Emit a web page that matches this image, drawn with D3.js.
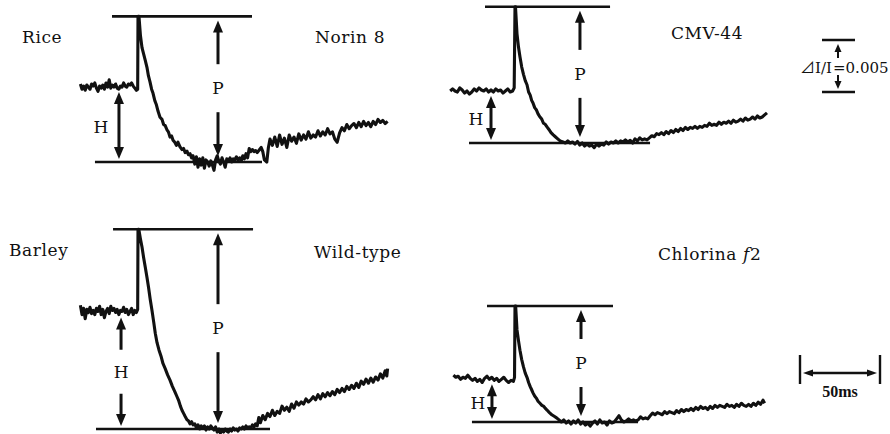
<!DOCTYPE html>
<html>
<head>
<meta charset="utf-8">
<script src="https://cdn.jsdelivr.net/npm/d3@7"></script>
<style>
  body { margin: 0; background: #fff; }
  text { font-family: "DejaVu Serif", "Noto Sans CJK JP", serif; fill: #111; }
</style>
</head>
<body>
<svg id="chart" width="890" height="434"></svg>
<script>
// traces: [time after flash (ms), signal (10^-3 ΔI/I) above the minimum]
const riceNorin8 = [
  [-36, 7.5], [-35, 7.0], [-34, 7.3], [-33, 6.9], [-32, 7.4], [-31, 7.2], [-30, 7.0], [-29, 7.5], [-28, 7.3],
  [-27, 7.6], [-26, 7.1], [-25, 6.8], [-24, 7.3], [-23, 7.1], [-22, 7.4], [-21, 7.0], [-20, 7.6], [-19, 7.2],
  [-18, 7.9], [-17, 7.1], [-16, 7.4], [-15, 7.2], [-14, 7.5], [-13, 7.1], [-12, 7.0], [-11, 7.3], [-10, 7.2],
  [-9, 7.6], [-8, 7.3], [-7, 7.2], [-6, 7.5], [-5, 7.4], [-4, 7.6], [-3, 7.3], [-2, 7.1], [-1, 6.9], [-0.2, 7.0],
  [0, 14.0], [0.6, 14.0], [1.5, 12.2], [2.5, 11.0], [3.5, 10.4], [4.5, 9.8], [5.6, 9.1], [6.5, 8.3], [7.5, 7.7],
  [8.5, 7.0], [9.4, 6.6], [10.5, 5.9], [11.5, 5.5], [12.5, 4.9], [13.75, 4.3], [15, 4.1], [16, 3.6], [17, 3.5],
  [18.1, 3.1], [19, 2.9], [20, 2.4], [21, 2.5], [21.9, 2.1], [23, 1.9], [24, 1.6], [25, 1.9], [26.25, 1.45],
  [27.5, 1.2], [28.5, 1.3], [29.5, 0.9], [30.6, 1.05], [31.5, 0.7], [32.5, 0.8], [33.5, 0.4], [34.4, 0.6],
  [35.5, -0.2], [36.5, 0.5], [37.5, -0.5], [38.5, 0.3], [39.5, -0.3], [40.5, 0.4], [41.5, -0.6], [42.5, 0.2],
  [43.5, 0.0], [44.5, -0.4], [45.5, 0.1], [46.5, -0.3], [47.5, -0.8], [48.5, 0.2], [49.5, 0.6], [50.5, 0.1],
  [51.5, -0.2], [52.5, 0.4], [53.5, 0.0], [54.5, -0.5], [55.5, 0.3], [56.5, 0.1], [57.5, 0.4], [58.5, 0.0],
  [59.5, 0.3], [60.5, 0.2], [61.5, 0.5], [62.5, 0.2], [63.5, 0.4], [64.5, 0.1], [65.5, 0.6], [66.5, 0.3],
  [67.5, 0.8], [68.5, 0.4], [69.5, 1.3], [70.5, 1.0], [71.5, 1.2], [72.5, 1.0], [73.5, 1.1], [74.5, 0.9],
  [76, 1.2], [77, 1.4], [78, 1.0], [79, 0.2], [80.5, 0.0], [81.5, 1.4],
  [82.5, 2.2], [84, 1.6], [85.5, 2.4], [87, 1.5], [88.5, 2.6], [90, 1.7], [91.5, 2.3], [93, 1.4], [94.5, 2.6],
  [96, 2.0], [97.5, 2.4], [99, 1.8], [100.5, 2.7], [102, 2.1], [103.5, 2.6], [105, 2.2], [106.5, 2.9], [108, 2.3],
  [109.5, 2.6], [111, 2.4], [112.5, 3.0], [114, 2.5], [115.5, 2.9], [117, 2.6], [118.5, 3.2], [120, 2.7],
  [121.5, 2.9], [123, 2.2], [124.5, 1.9], [126, 2.8], [127.5, 3.3], [129, 3.0], [130.5, 3.6], [132, 3.2],
  [133.5, 3.5], [135, 3.7], [136.5, 3.3], [138, 3.8], [139.5, 3.4], [141, 3.9], [142.5, 3.5], [144, 3.8],
  [145.5, 3.4], [147, 3.9], [148.5, 3.6], [150, 4.1], [151.5, 3.8], [153, 4.0], [154.5, 3.7], [156, 3.9]
];

const riceCMV44 = [
  [-40.5, 5.0], [-39, 5.2], [-37.5, 5.0], [-36, 4.9], [-34.5, 5.3], [-33, 5.1], [-31.5, 4.8], [-30, 5.0],
  [-28.5, 4.7], [-27, 4.9], [-25.5, 5.2], [-24, 5.0], [-22.5, 5.3], [-21, 5.1], [-19.5, 5.0], [-18, 5.2],
  [-16.5, 4.9], [-15, 5.1], [-13.5, 4.9], [-12, 5.2], [-10.5, 5.0], [-9, 5.1], [-7.5, 4.8], [-6, 5.0],
  [-4.5, 5.2], [-3, 4.9], [-1.5, 5.0], [-0.5, 5.3], [0, 13.1], [0.3, 13.1],
  [1.25, 10.5], [2.2, 9.2], [3.1, 8.3], [4.2, 7.3], [5.3, 6.6], [6.4, 6.0], [7.5, 5.6], [8.5, 4.9], [9.5, 4.6],
  [10.4, 4.1], [11.25, 3.85], [12.3, 3.4], [13.3, 3.2], [14.4, 2.8], [15.6, 2.5], [16.7, 2.3], [17.8, 1.9],
  [18.9, 1.8], [20, 1.55], [21.2, 1.3], [22.5, 1.0], [23.75, 0.8], [25.2, 0.6], [26.7, 0.4], [28.2, 0.2], [30, 0.1],
  [31.5, 0.0], [33, 0.2], [34.5, 0.0], [36, 0.1], [37.5, -0.1], [39, 0.15], [40.5, -0.2], [42, 0.0], [43.5, -0.3],
  [45, -0.1], [46.5, -0.3], [48, -0.2], [49.5, -0.45], [51, -0.1], [52.5, -0.3], [54, -0.1], [55.5, -0.2],
  [57, 0.1], [58.5, -0.1], [60, 0.1], [61.5, 0.0], [63, 0.2], [64.5, 0.0], [66, 0.2], [67.5, 0.1], [69, 0.3],
  [70.5, 0.1], [72, 0.25], [73.5, 0.0], [75, 0.4], [76.5, 0.2], [78, 0.5], [79.5, 0.3], [81, 0.4], [82.5, 0.3], [84, 0.5],
  [85.5, 0.7], [87, 0.6], [88.5, 0.9], [90, 0.8], [91.5, 1.0], [93, 0.8], [94.5, 1.1], [96, 0.9], [97.5, 1.2],
  [99, 1.0], [100.5, 1.3], [102, 1.1], [103.5, 1.4], [105, 1.2], [106.5, 1.5], [108, 1.3], [109.5, 1.5],
  [111, 1.4], [112.5, 1.6], [114, 1.4], [115.5, 1.6], [117, 1.5], [118.5, 1.7], [120, 1.6], [121.5, 1.9],
  [123, 1.7], [124.5, 1.8], [126, 1.7], [127.5, 2.0], [129, 1.8], [130.5, 2.0], [132, 1.9], [133.5, 2.1],
  [135, 1.9], [136.5, 2.2], [138, 2.0], [139.5, 2.1], [141, 2.3], [142.5, 2.1], [144, 2.4], [145.5, 2.2],
  [147, 2.3], [148.5, 2.5], [150, 2.3], [151.5, 2.6], [153, 2.4], [154.5, 2.5], [156, 2.7], [157.5, 2.9]
];

const barleyWildType = [
  [-36, 11.9], [-35, 11.0], [-34, 11.6], [-33, 10.6], [-32, 11.5], [-31, 11.2], [-30, 11.7], [-29, 11.1],
  [-28, 11.4], [-27, 11.0], [-26, 11.6], [-25, 11.3], [-24, 11.8], [-23, 11.0], [-22, 11.5], [-21, 10.7],
  [-20, 11.3], [-19, 11.6], [-18, 11.1], [-17, 11.8], [-16, 11.4], [-15, 11.6], [-14, 11.2], [-13, 11.5],
  [-12, 11.0], [-11, 11.4], [-10, 11.3], [-9, 11.7], [-8, 11.2], [-7, 11.5], [-6, 11.0], [-5, 11.3], [-4, 11.6],
  [-3, 11.0], [-2, 11.4], [-1, 11.2], [-0.2, 11.5], [0, 19.2], [0.5, 19.2],
  [1.5, 18.3], [2.5, 17.5], [3.5, 16.5], [4.5, 15.6], [5.6, 14.6], [6.6, 13.6], [7.6, 12.5], [8.75, 11.4],
  [9.8, 10.3], [10.8, 9.2], [11.9, 8.3], [13.1, 7.6], [14.4, 7.0], [15.6, 6.3], [17, 5.8], [18.5, 5.2], [20, 4.7],
  [21.5, 4.1], [23, 3.6], [24.4, 3.1], [25.5, 2.7], [26.5, 2.2], [27.5, 1.8], [28.5, 1.5], [29.5, 1.2],
  [30.6, 0.9], [31.5, 0.8], [32.5, 0.5], [33.5, 0.7], [34.4, 0.4],
  [35.5, 0.5], [36.5, 0.1], [37.5, 0.4], [38.5, 0.0], [39.5, 0.3], [40.5, 0.1], [41.5, 0.3], [42.5, -0.1],
  [43.5, 0.2], [44.5, 0.0], [45.5, 0.3], [46.5, 0.1], [47.5, -0.1], [48.5, 0.2], [49.5, -0.3], [50.5, 0.0],
  [51.5, -0.4], [52.5, -0.1], [53.5, -0.3], [54.5, 0.0], [55.5, -0.2], [56.5, -0.3], [57.5, 0.0], [58.5, -0.2],
  [59.5, 0.1], [60.5, -0.1], [61.5, 0.0], [62.5, -0.2], [63.5, 0.1], [64.5, 0.0], [65.5, 0.2], [66.5, 0.0],
  [67.5, 0.3], [68.5, 0.1], [69.5, 0.2], [70.5, 0.1], [71.5, 0.4], [72.5, 0.2], [73.5, 0.5], [74.5, 0.3],
  [75.5, 1.1], [76.5, 0.6],
  [78, 1.3], [79.5, 0.9], [81, 1.5], [82.5, 1.2], [84, 1.8], [85.5, 1.3], [87, 1.7], [88.5, 1.5], [90, 2.2],
  [91.5, 1.8], [93, 2.1], [94.5, 1.7], [96, 2.4], [97.5, 2.0], [99, 2.6], [100.5, 2.3], [102, 2.6], [103.5, 2.4],
  [105, 2.9], [106.5, 2.6], [108, 2.8], [109.5, 3.1], [111, 2.8], [112.5, 3.3], [114, 2.9], [115.5, 3.4],
  [117, 3.1], [118.5, 3.5], [120, 3.2], [121.5, 3.6], [123, 3.3], [124.5, 3.8], [126, 3.5], [127.5, 3.9],
  [129, 3.6], [130.5, 4.1], [132, 3.8], [133.5, 4.2], [135, 3.9], [136.5, 4.4], [138, 4.0], [139.5, 4.6],
  [141, 4.3], [142.5, 4.8], [144, 4.4], [145.5, 4.9], [147, 4.5], [148.5, 5.0], [150, 4.7], [151.5, 5.3],
  [153, 4.9], [154.5, 5.6], [155.5, 5.1], [156, 5.8]
];

const barleyChlorinaF2 = [
  [-38.5, 4.5], [-37, 4.3], [-35.5, 4.4], [-34, 4.1], [-32.5, 4.3], [-31, 4.2], [-29.5, 4.5], [-28, 4.2],
  [-26.5, 4.0], [-25, 4.2], [-23.5, 3.9], [-22, 4.1], [-20.5, 3.8], [-19, 4.2], [-17.5, 4.4], [-16, 4.1],
  [-14.5, 4.3], [-13, 4.0], [-11.5, 4.2], [-10, 3.9], [-8.5, 4.1], [-7, 4.3], [-5.5, 4.0], [-4, 3.8],
  [-2.5, 4.0], [-1, 3.9], [-0.3, 4.3], [0, 11.15], [0.4, 11.15],
  [1.25, 8.85], [2.2, 7.8], [3.1, 6.9], [4.2, 6.0], [5.3, 5.3], [6.4, 4.7], [7.5, 4.3], [8.5, 3.8], [9.5, 3.4],
  [10.4, 3.1], [11.25, 2.8], [12.3, 2.5], [13.3, 2.3], [14.4, 2.0], [15.6, 1.8], [16.8, 1.6], [18, 1.5],
  [19, 1.3], [20, 1.15], [21.5, 0.9], [23, 0.7], [24.5, 0.55], [26, 0.4],
  [27.5, 0.2], [29, 0.0], [30.5, 0.2], [32, -0.1], [33.5, 0.1], [35, -0.2], [36.5, 0.1], [38, -0.1], [39.5, 0.2],
  [41, -0.2], [42.5, 0.0], [44, -0.3], [45.5, -0.1], [47, -0.4], [48.5, -0.1], [50, 0.1], [51.5, -0.2],
  [53, 0.2], [54.5, -0.1], [56, 0.0], [57.5, -0.3], [59, 0.1], [60.5, -0.1], [62, 0.0], [63.5, 0.3], [65, 0.6],
  [66.5, 0.2], [68, 0.0], [69.5, 0.1], [71, 0.3], [72.5, 0.1], [74, 0.2], [75.5, 0.1], [77, 0.2], [78.5, 0.5],
  [80, 0.3], [81.5, 0.4], [83, 0.3], [84.5, 0.6], [86, 0.85],
  [87.5, 0.7], [89, 0.9], [90.5, 0.8], [92, 0.7], [93.5, 1.0], [95, 0.8], [96.5, 1.0], [98, 0.9], [99.5, 0.8],
  [101, 1.1], [102.5, 0.9], [104, 1.2], [105.5, 1.0], [107, 1.2], [108.5, 1.1], [110, 1.3], [111.5, 1.1],
  [113, 1.4], [114.5, 1.2], [116, 1.5], [117.5, 1.3], [119, 1.4], [120.5, 1.2], [122, 1.5], [123.5, 1.3],
  [125, 1.6], [126.5, 1.4], [128, 1.6], [129.5, 1.5], [131, 1.4], [132.5, 1.7], [134, 1.5], [135.5, 1.6],
  [137, 1.4], [138.5, 1.7], [140, 1.5], [141.5, 1.8], [143, 1.6], [144.5, 1.5], [146, 1.7], [147.5, 1.5],
  [149, 1.8], [150.5, 1.6], [152, 1.9], [153.5, 1.7], [155, 2.1], [156, 1.8]
];

const traces = [riceNorin8, riceCMV44, barleyWildType, barleyChlorinaF2];
const cultivars = ["Norin 8", "CMV-44", "Wild-type", "Chlorina"];
const species = ["Rice", "", "Barley", ""];
const peakLevels = [14.0, 13.1, 19.2, 11.15];     // P
const preFlashLevels = [7.3, 5.1, 11.3, 4.2];     // H

const timeBar = 50;       // ms
const signalBar = 5;      // 10^-3 -> 0.005

// layout of each panel (pixel origin = flash time / minimum level)
const panels = [
  { x0: 138, y0: 162, top: [-16.25, 71.25], bottom: [-26.9, 77.5], hT: -11.9, pT: 50, split: false, hDx: -18,
    name: { x: 315, y: 43 }, sp: { x: 22, y: 43 } },
  { x0: 515, y0: 143, top: [-18.75, 59.4], bottom: [-28.75, 84.4], hT: -15, pT: 40.6, split: false, hDx: -15,
    name: { x: 671, y: 39 } },
  { x0: 138, y0: 429, top: [-15.6, 71.9], bottom: [-26.25, 82.5], hT: -10.6, pT: 50, split: true, hDx: 0,
    name: { x: 314, y: 258 }, sp: { x: 9, y: 256 } },
  { x0: 515, y0: 422, top: [-17.5, 61.25], bottom: [-26.9, 76.9], hT: -14.4, pT: 41.25, split: false, hDx: -14,
    name: { x: 658, y: 260 }, italic: "f2" }
];

const svg = d3.select("#chart");
svg.append("rect").attr("width", 890).attr("height", 434).attr("fill", "#fff");

const ink = "#111";

function arrowHead(g, x, yTip, dir, len, half) {
  // dir = -1 pointing up, +1 pointing down
  g.append("path")
    .attr("d", `M${x},${yTip} L${x - half},${yTip - dir * len} L${x + half},${yTip - dir * len} Z`)
    .attr("fill", ink);
}

function arrow(g, x, yTail, yTip, opts = {}) {
  const len = opts.len || 12, half = opts.half || 5, w = opts.w || 3;
  const dir = yTip > yTail ? 1 : -1;
  g.append("line")
    .attr("x1", x).attr("x2", x)
    .attr("y1", yTail).attr("y2", yTip - dir * (len - 1))
    .attr("stroke", ink).attr("stroke-width", w);
  arrowHead(g, x, yTip, dir, len, half);
}

function doubleArrow(g, x, y1, y2, opts = {}) {
  const len = opts.len || 12, half = opts.half || 5, w = opts.w || 3;
  g.append("line")
    .attr("x1", x).attr("x2", x)
    .attr("y1", y1 + len - 1).attr("y2", y2 - len + 1)
    .attr("stroke", ink).attr("stroke-width", w);
  arrowHead(g, x, y1, -1, len, half);
  arrowHead(g, x, y2, 1, len, half);
}

panels.forEach((p, i) => {
  const x = d3.scaleLinear().domain([0, timeBar]).range([p.x0, p.x0 + 80]);
  const y = d3.scaleLinear().domain([0, signalBar]).range([p.y0, p.y0 - 52]);
  const g = svg.append("g");

  const yTop = y(peakLevels[i]);
  const yBot = y(0);

  // reference lines
  g.append("line")
    .attr("x1", x(p.top[0])).attr("x2", x(p.top[1]))
    .attr("y1", yTop).attr("y2", yTop)
    .attr("stroke", ink).attr("stroke-width", 2.6);
  g.append("line")
    .attr("x1", x(p.bottom[0])).attr("x2", x(p.bottom[1]))
    .attr("y1", yBot).attr("y2", yBot)
    .attr("stroke", ink).attr("stroke-width", 2.6);

  // trace
  const line = d3.line()
    .x(d => x(d[0]))
    .y(d => y(d[1]));
  g.append("path")
    .datum(traces[i])
    .attr("d", line)
    .attr("fill", "none")
    .attr("stroke", ink)
    .attr("stroke-width", 3.1)
    .attr("stroke-linejoin", "round");

  // H arrow
  const hx = x(p.hT);
  const hTop = y(preFlashLevels[i]) + 6;
  const hBot = yBot - 3;
  if (p.split) {
    const mid = (hTop + hBot) / 2;
    arrow(g, hx, mid - 22, hTop);
    arrow(g, hx, mid + 22, hBot);
    g.append("text").attr("x", hx).attr("y", mid + 6)
      .attr("text-anchor", "middle").attr("font-size", 17).text("H");
  } else {
    doubleArrow(g, hx, hTop, hBot);
    g.append("text").attr("x", hx + p.hDx).attr("y", (hTop + hBot) / 2 + 7)
      .attr("text-anchor", "middle").attr("font-size", 17).text("H");
  }

  // P arrow
  const px = x(p.pT);
  const pMid = (yTop + yBot) / 2 - 1;
  arrow(g, px, pMid - 24, yTop + 4);
  arrow(g, px, pMid + 24, yBot - 6);
  g.append("text").attr("x", px).attr("y", pMid + 6)
    .attr("text-anchor", "middle").attr("font-size", 17).text("P");

  // labels
  const t = g.append("text").attr("x", p.name.x).attr("y", p.name.y)
    .attr("font-size", 17).attr("letter-spacing", 0.6).text(cultivars[i]);
  if (p.italic) {
    t.append("tspan").text(" ");
    t.append("tspan").attr("font-style", "italic").text("f");
    t.append("tspan").text("2");
  }
  if (species[i]) {
    g.append("text").attr("x", p.sp.x).attr("y", p.sp.y)
      .attr("font-size", 17).attr("letter-spacing", 0.6).text(species[i]);
  }
});

// scale bar: ΔI/I = 0.005
{
  const y = d3.scaleLinear().domain([0, signalBar]).range([92, 40]);
  const g = svg.append("g");
  const bx = 838;
  [0, signalBar].forEach(v => {
    g.append("line").attr("x1", 822).attr("x2", 855)
      .attr("y1", y(v)).attr("y2", y(v))
      .attr("stroke", ink).attr("stroke-width", 2.4);
  });
  arrow(g, bx, 58, y(signalBar) + 4, { len: 8, half: 3.5, w: 2 });
  arrow(g, bx, 75, y(0) - 3, { len: 8, half: 3.5, w: 2 });
  g.append("text").attr("x", 832).attr("y", 73).attr("text-anchor", "end")
    .attr("font-size", 15).text("⊿I/I");
  g.append("text").attr("x", 833).attr("y", 73)
    .attr("font-size", 15).text("=0.005");
}

// scale bar: 50 ms
{
  const x = d3.scaleLinear().domain([0, timeBar]).range([800, 880]);
  const g = svg.append("g");
  [0, timeBar].forEach(v => {
    g.append("line").attr("x1", x(v)).attr("x2", x(v))
      .attr("y1", 355).attr("y2", 384)
      .attr("stroke", ink).attr("stroke-width", 2.4);
  });
  const yA = 373;
  g.append("line").attr("x1", x(0) + 12).attr("x2", x(timeBar) - 12)
    .attr("y1", yA).attr("y2", yA).attr("stroke", ink).attr("stroke-width", 2.4);
  g.append("path").attr("d", `M${x(0) + 3},${yA} L${x(0) + 13},${yA - 3.5} L${x(0) + 13},${yA + 3.5} Z`).attr("fill", ink);
  g.append("path").attr("d", `M${x(timeBar) - 3},${yA} L${x(timeBar) - 13},${yA - 3.5} L${x(timeBar) - 13},${yA + 3.5} Z`).attr("fill", ink);
  g.append("text").attr("x", x(timeBar / 2)).attr("y", 397)
    .attr("text-anchor", "middle").attr("font-size", 16)
    .style("font-family", "'Liberation Serif', serif").attr("font-weight", "bold")
    .text(timeBar + "ms");
}
</script>
</body>
</html>
